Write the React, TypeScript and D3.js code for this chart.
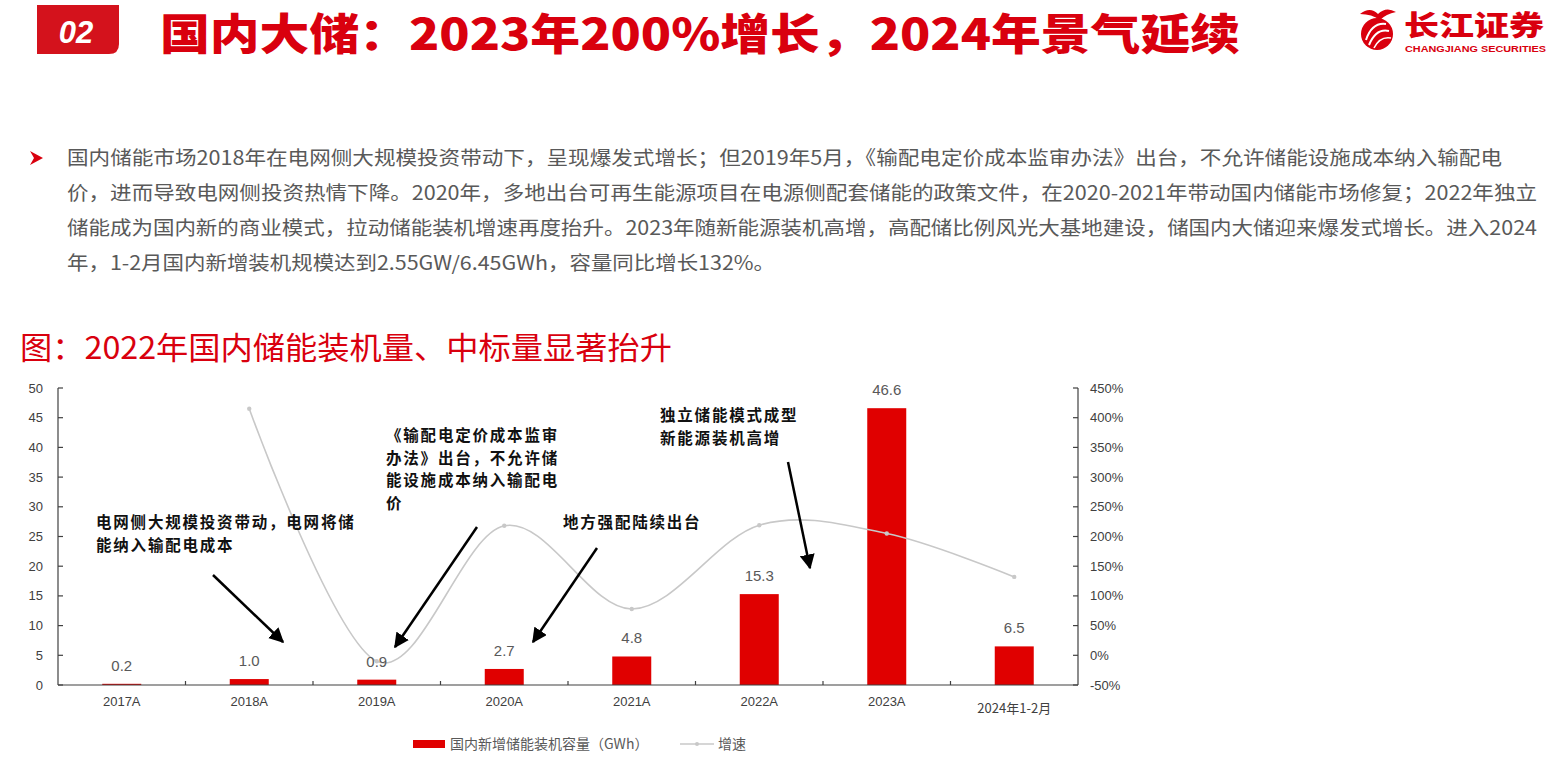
import * as d3 from "d3";

const categories = ["2017A", "2018A", "2019A", "2020A", "2021A", "2022A", "2023A", "2024年1-2月"];
const capacity = [0.2, 1.0, 0.9, 2.7, 4.8, 15.3, 46.6, 6.5];
const growth: (number | null)[] = [null, 415, -10, 218, 78, 219, 205, 132];
const leftTicks = [0, 5, 10, 15, 20, 25, 30, 35, 40, 45, 50];
const rightTicks = [-50, 0, 50, 100, 150, 200, 250, 300, 350, 400, 450];

const paragraph = [
  "国内储能市场2018年在电网侧大规模投资带动下，呈现爆发式增长；但2019年5月，《输配电定价成本监审办法》出台，不允许储能设施成本纳入输配电",
  "价，进而导致电网侧投资热情下降。2020年，多地出台可再生能源项目在电源侧配套储能的政策文件，在2020-2021年带动国内储能市场修复；2022年独立",
  "储能成为国内新的商业模式，拉动储能装机增速再度抬升。2023年随新能源装机高增，高配储比例风光大基地建设，储国内大储迎来爆发式增长。进入2024",
  "年，1-2月国内新增装机规模达到2.55GW/6.45GWh，容量同比增长132%。",
];
const paragraphWidths = [1435, 1470, 1470, 708];

const annotations = [
  { lines: ["电网侧大规模投资带动，电网将储", "能纳入输配电成本"], x: 96, y: 528, from: [213, 575], to: [283, 642] },
  { lines: ["《输配电定价成本监审", "办法》出台，不允许储", "能设施成本纳入输配电", "价"], x: 386, y: 441, from: [477, 527], to: [395, 647] },
  { lines: ["地方强配陆续出台"], x: 563, y: 528, from: [597, 548], to: [533, 642] },
  { lines: ["独立储能模式成型", "新能源装机高增"], x: 660, y: 421, from: [788, 462], to: [810, 568] },
];

const CJK = "'Noto Sans CJK SC', 'Noto Sans', sans-serif";
const LATIN = "'Liberation Sans', Arial, sans-serif";
const RED = "#d9000e";
const BAR = "#e00000";
const AXIS = "#404040";
const GRAY_TEXT = "#595959";

export default function App() {
  const left = 58;
  const right = 1078;
  const top = 388;
  const bottom = 685;

  const x = d3.scaleBand<string>().domain(categories).range([left, right]).paddingInner(0).paddingOuter(0);
  const yL = d3.scaleLinear().domain([0, 50]).range([bottom, top]);
  const yR = d3.scaleLinear().domain([-50, 450]).range([bottom, top]);
  const barW = 39;
  const cx = (c: string) => (x(c) ?? 0) + x.bandwidth() / 2;

  const growthPts = categories
    .map((c, i) => ({ c, v: growth[i] }))
    .filter((d) => d.v !== null) as { c: string; v: number }[];
  const linePath = d3
    .line<{ c: string; v: number }>()
    .x((d) => cx(d.c))
    .y((d) => yR(d.v))
    .curve(d3.curveCardinal.tension(0))(growthPts) || "";

  return (
    <div style={{ position: "absolute", left: 0, top: 0, width: 1548, height: 777, background: "#fff" }}>
      <svg width={1548} height={777} style={{ display: "block" }}>
        <defs>
          <marker id="ah" viewBox="0 0 10 10" refX="9" refY="5" markerWidth="6" markerHeight="6" orient="auto">
            <path d="M0,0 L10,5 L0,10 z" fill="#000" />
          </marker>
        </defs>

        {/* header */}
        <path d="M37,5 H119 V44 Q119,54 109,54 H37 Z" fill="#d4121c" />
        <text x={76} y={43} textAnchor="middle" fill="#fff" fontFamily={LATIN} fontWeight={700}
          fontStyle="italic" fontSize={31}>02</text>
        <text x={160} y={50} fill={RED} fontFamily={CJK} fontWeight={900} fontSize={43}
          textLength={1080} lengthAdjust="spacingAndGlyphs">国内大储：2023年200%增长，2024年景气延续</text>

        {/* logo */}
        <g>
          <circle cx={1377} cy={34} r={16} fill={RED} />
          <path d="M1366,40 Q1372,22 1386,24" stroke="#fff" strokeWidth={2} fill="none" />
          <path d="M1369,45 Q1376,28 1389,31" stroke="#fff" strokeWidth={2} fill="none" />
          <path d="M1374,48 Q1380,36 1391,38" stroke="#fff" strokeWidth={1.6} fill="none" />
          <path d="M1360,14 Q1370,6 1378,14 Q1386,6 1396,12 Q1386,14 1380,20 Q1372,14 1360,14 Z" fill={RED} />
          <text x={1404} y={36} fill={RED} fontFamily={CJK} fontWeight={900} fontSize={28}
            textLength={140} lengthAdjust="spacingAndGlyphs">长江证券</text>
          <text x={1405} y={52} fill={RED} fontFamily={LATIN} fontWeight={700} fontSize={8.5}
            textLength={141} lengthAdjust="spacingAndGlyphs">CHANGJIANG SECURITIES</text>
        </g>

        {/* paragraph */}
        <path d="M30,151 L43,158 L30,165 L34,158 Z" fill={RED} />
        {paragraph.map((line, i) => (
          <text key={i} x={67} y={165 + i * 35} fill={GRAY_TEXT} fontFamily={CJK} fontSize={19.5}
            textLength={paragraphWidths[i]} lengthAdjust="spacingAndGlyphs">{line}</text>
        ))}

        {/* figure title */}
        <text x={20} y={359} fill={RED} fontFamily={CJK} fontSize={31}
          textLength={652} lengthAdjust="spacingAndGlyphs">图：2022年国内储能装机量、中标量显著抬升</text>

        {/* bars */}
        {categories.map((c, i) => (
          <rect key={c} x={cx(c) - barW / 2} y={yL(capacity[i])} width={barW}
            height={yL(0) - yL(capacity[i])} fill={BAR} />
        ))}

        {/* growth line */}
        <path d={linePath} fill="none" stroke="#c8c8c8" strokeWidth={1.6} />
        {growthPts.map((d) => (
          <circle key={d.c} cx={cx(d.c)} cy={yR(d.v)} r={2.2} fill="#c8c8c8" />
        ))}

        {/* bar value labels */}
        {categories.map((c, i) => (
          <text key={c} x={cx(c)} y={yL(capacity[i]) - 13} textAnchor="middle" fill={GRAY_TEXT}
            fontFamily={LATIN} fontSize={15}>{capacity[i].toFixed(1)}</text>
        ))}

        {/* left axis */}
        <line x1={left} x2={left} y1={top} y2={bottom} stroke={AXIS} strokeWidth={1.2} />
        {leftTicks.map((t) => (
          <g key={t}>
            <line x1={left} x2={left + 5} y1={yL(t)} y2={yL(t)} stroke={AXIS} strokeWidth={1.2} />
            <text x={43} y={yL(t) + 4.5} textAnchor="end" fill={AXIS} fontFamily={LATIN} fontSize={13}>{t}</text>
          </g>
        ))}

        {/* right axis */}
        <line x1={right} x2={right} y1={top} y2={bottom} stroke={AXIS} strokeWidth={1.2} />
        {rightTicks.map((t) => (
          <g key={t}>
            <line x1={right - 5} x2={right} y1={yR(t)} y2={yR(t)} stroke={AXIS} strokeWidth={1.2} />
            <text x={1090} y={yR(t) + 4.5} fill={AXIS} fontFamily={LATIN} fontSize={13}>{t}%</text>
          </g>
        ))}

        {/* x axis */}
        <line x1={left} x2={right} y1={bottom} y2={bottom} stroke={AXIS} strokeWidth={1.2} />
        {categories.slice(1).map((c) => (
          <line key={c} x1={x(c)} x2={x(c)} y1={bottom} y2={bottom - 4} stroke={AXIS} strokeWidth={1.2} />
        ))}
        {categories.map((c, i) => (
          <text key={c} x={cx(c)} y={i === categories.length - 1 ? 713 : 706} textAnchor="middle" fill={AXIS}
            fontFamily={i === categories.length - 1 ? CJK : LATIN} fontSize={13}>{c}</text>
        ))}

        {/* annotations */}
        {annotations.map((a, i) => (
          <g key={i}>
            {a.lines.map((l, j) => (
              <text key={j} x={a.x} y={a.y + j * 22.5} fill="#111" fontFamily={CJK} fontWeight={700}
                fontSize={15.5} letterSpacing={1.8}>{l}</text>
            ))}
            <line x1={a.from[0]} y1={a.from[1]} x2={a.to[0]} y2={a.to[1]} stroke="#000" strokeWidth={2.5}
              markerEnd="url(#ah)" />
          </g>
        ))}

        {/* legend */}
        <rect x={413} y={740} width={32} height={8} fill={BAR} />
        <text x={450} y={749} fill={GRAY_TEXT} fontFamily={CJK} fontSize={14}>国内新增储能装机容量（GWh）</text>
        <line x1={680} x2={714} y1={744} y2={744} stroke="#c8c8c8" strokeWidth={1.5} />
        <circle cx={697} cy={744} r={2} fill="#c8c8c8" />
        <text x={718} y={749} fill={GRAY_TEXT} fontFamily={CJK} fontSize={14}>增速</text>
      </svg>
    </div>
  );
}
